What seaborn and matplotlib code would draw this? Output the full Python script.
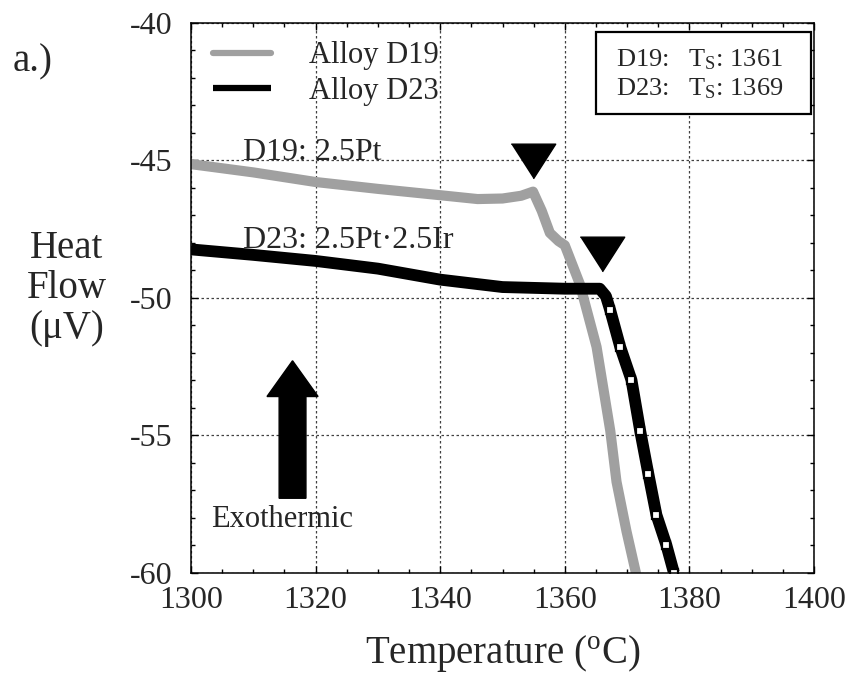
import numpy as np
import pandas as pd
import matplotlib
matplotlib.use("Agg")
import matplotlib.pyplot as plt
import seaborn as sns
from matplotlib.ticker import MultipleLocator
from matplotlib.patches import Rectangle

# values
temp_d19 = [1300, 1310, 1320, 1330, 1340, 1346, 1350, 1353, 1354.9, 1356.3, 1357.6,
            1359, 1360.0, 1362.4, 1365.1, 1367.3, 1368.3, 1369.9, 1371.4]
flow_d19 = [-45.15, -45.45, -45.8, -46.05, -46.28, -46.42, -46.4, -46.3, -46.15, -46.85,
            -47.65, -47.95, -48.1, -49.5, -51.8, -54.85, -56.7, -58.5, -60.0]

temp_d23 = [1300, 1310, 1320, 1330, 1340, 1350, 1360, 1365.6, 1366.6, 1367.3, 1368.9,
            1370.7, 1372.1, 1373.4, 1374.7, 1376.3, 1377.5]
flow_d23 = [-48.25, -48.45, -48.67, -48.95, -49.35, -49.62, -49.68, -49.68, -49.95, -50.47,
            -51.8, -53.0, -54.85, -56.4, -57.9, -59.0, -60.0]

onset_temp = [1354.9, 1366.0]
onset_flow = [-45.05, -48.43]

legend_labels = ["Alloy D19", "Alloy D23"]
box_lines = [r"D19:   $\mathrm{T_S}$: 1361", r"D23:   $\mathrm{T_S}$: 1369"]

sns.set_theme(style="ticks")
plt.rcParams["font.family"] = ["Liberation Serif", "DejaVu Serif"]
plt.rcParams["mathtext.fontset"] = "custom"
plt.rcParams["mathtext.rm"] = "Liberation Serif"
plt.rcParams["mathtext.it"] = "Liberation Serif:italic"
plt.rcParams["axes.unicode_minus"] = False

fig = plt.figure(figsize=(8.53, 6.76), dpi=100)
ax = fig.add_axes([0.2239, 0.1531, 0.7304, 0.8136])

sns.lineplot(x=temp_d19, y=flow_d19, sort=False, color="#a0a0a0", lw=7.3,
             solid_capstyle="round", label=legend_labels[0], ax=ax)
sns.lineplot(x=temp_d23, y=flow_d23, sort=False, color="black", lw=8.5,
             solid_capstyle="butt", label=legend_labels[1], ax=ax,
             marker="s", markevery=list(range(9, len(temp_d23))), ms=6,
             mfc="white", mec="black", mew=1.6)

tri = [(-1.0, 0.78), (1.0, 0.78), (0.0, -0.78)]
ax.plot(onset_temp, onset_flow, ls="none", marker=tri, ms=32, color="black")

ax.set_xlim(1300, 1400)
ax.set_ylim(-60, -40)
ax.xaxis.set_major_locator(MultipleLocator(20))
ax.xaxis.set_minor_locator(MultipleLocator(5))
ax.yaxis.set_major_locator(MultipleLocator(5))
ax.yaxis.set_minor_locator(MultipleLocator(1))
ax.tick_params(which="both", direction="in", top=True, right=True, width=1, color="black")
ax.tick_params(which="major", length=5, labelsize=23, pad=10)
ax.tick_params(axis="y", which="major", pad=13)
ax.tick_params(which="minor", length=3)
ax.grid(True, which="major", color="0.25", ls=(0, (2, 2)), lw=0.9)
for s in ax.spines.values():
    s.set_linewidth(1.1)
    s.set_color("black")

ax.set_xlabel(r"Temperature ($^{\mathrm{o}}$C)", fontsize=28, labelpad=13)
ax.set_ylabel("Heat\nFlow\n(\u03bcV)", fontsize=28, rotation=0, ha="center",
              va="center", linespacing=1.1)
ax.yaxis.set_label_coords(-0.2, 0.516)

leg = ax.legend(loc="upper left", bbox_to_anchor=(0.035, 0.966), frameon=False,
                fontsize=22, handlelength=1.9, handletextpad=1.25,
                borderpad=0, borderaxespad=0, labelspacing=0.22)
for ln in leg.get_lines():
    ln.set_linewidth(4.5)
    ln.set_marker("")

ax.add_patch(Rectangle((0.650, 0.8336), 0.345, 0.149, transform=ax.transAxes,
                       fill=True, fc="white", ec="black", lw=1.6, zorder=5))
ax.text(0.682, 0.9196, box_lines[0], transform=ax.transAxes, fontsize=19,
        va="baseline", ha="left", zorder=6)
ax.text(0.682, 0.868, box_lines[1], transform=ax.transAxes, fontsize=19,
        va="baseline", ha="left", zorder=6)

ax.text(1308.3, -45.0, "D19: 2.5Pt", fontsize=23, va="baseline", ha="left")
ax.text(1308.4, -48.2, "D23: 2.5Pt\u00b72.5Ir", fontsize=23, va="baseline", ha="left")
ax.text(1303.3, -58.33, "Exothermic", fontsize=22, va="baseline", ha="left")
ax.arrow(1316.3, -57.3, 0, 5.0, width=4.3, head_width=8.2, head_length=1.3,
         length_includes_head=True, color="black", zorder=4)

fig.text(13 / 853, 1 - 71.7 / 676, "a.)", fontsize=28, va="baseline", ha="left")

fig.savefig("out.png", dpi=100)
